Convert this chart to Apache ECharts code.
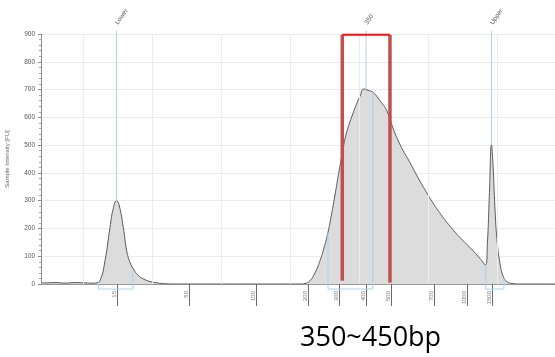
<!DOCTYPE html>
<html>
<head>
<meta charset="utf-8">
<script src="https://cdn.jsdelivr.net/npm/echarts@6/dist/echarts.min.js"></script>
<style>
  html, body { margin: 0; padding: 0; background: #fff; }
  #chart { width: 555px; height: 357px; }
</style>
</head>
<body>
<div id="chart"></div>
<script>
// Electropherogram trace: migration time (s) vs. fluorescence (FU)
const traceTime = [13.91, 14.49, 15.94, 17.39, 18.84, 20.29, 21.30, 21.88, 22.46, 23.19, 23.91, 24.35, 24.86, 25.22, 25.84, 26.33, 26.81, 27.29, 27.97, 28.70, 29.71, 30.72, 31.88, 33.33, 44.20, 51.45, 52.17, 52.90, 53.62, 54.35, 54.93, 55.46, 55.94, 56.52, 56.96, 57.49, 57.68, 58.26, 58.94, 59.57, 60.14, 60.72, 61.30, 62.03, 63.04, 64.01, 65.07, 66.19, 67.39, 68.55, 69.71, 70.72, 71.88, 73.19, 74.35, 75.61, 76.67, 77.54, 78.33, 78.62, 78.91, 79.20, 79.42, 79.71, 80.00, 80.43, 80.87, 81.45, 82.17, 83.33, 88.41];
const traceFU = [4, 4, 5, 3, 5, 4, 3, 4, 12, 84, 204, 268, 300, 285, 204, 120, 78, 54, 32, 19, 9, 4, 1, 0, 0, 0, 2, 12, 40, 84, 130, 181, 240, 320, 385, 460, 488, 550, 601, 643, 676, 702, 697, 690, 660, 625, 552, 490, 437, 383, 333, 292, 250, 208, 175, 143, 116, 92, 68, 150, 330, 500, 430, 270, 160, 75, 30, 8, 2, 0, 0];

// Ladder sizes (bp) and the times they elute at
const ladderBp = ['15', '50', '100', '200', '300', '400', '500', '700', '1000', '1500'];
const ladderTime = [24.93, 35.36, 45.07, 52.61, 57.10, 61.01, 64.64, 70.87, 75.65, 79.28];

// Peak markers: name, time, peak height
const markerName = ['Lower', '350', 'Upper'];
const markerTime = [24.86, 61.01, 79.20];
const markerFU = [300, 700, 500];

// Integration regions: start/end time and curve height at the edges
const regionStart = [22.22, 55.51, 78.36];
const regionEnd = [27.25, 61.99, 81.01];
const regionStartFU = [5, 185, 66];
const regionEndFU = [50, 690, 22];

// Selected size window (350~450 bp)
const selectTime = [57.58, 64.49];
const selectTopFU = 897;
const selectLabel = '350~450bp';

const timeGrid = [20, 30, 40, 50, 60, 70, 80];
const yTicks = [0, 100, 200, 300, 400, 500, 600, 700, 800, 900];

const tMin = traceTime[0], tMax = traceTime[traceTime.length - 1];
const markerTop = 912;
const regionFloor = -18;

const chart = echarts.init(document.getElementById('chart'), null, { renderer: 'canvas' });
const bpByTime = new Map(ladderTime.map((t, i) => [t, ladderBp[i]]));
const nameByTime = new Map(markerTime.map((t, i) => [t, markerName[i]]));
const font = 'Liberation Sans';

const series = [];

// faint vertical grid
series.push({
  type: 'line', data: [], z: 1, silent: true,
  markLine: {
    silent: true, symbol: 'none', label: { show: false },
    lineStyle: { color: '#ececec', width: 1, type: 'solid' },
    data: timeGrid.map(t => ({ xAxis: t }))
  }
});

// trace
series.push({
  type: 'line', z: 3,
  data: traceTime.map((t, i) => [t, traceFU[i]]),
  showSymbol: false, smooth: 0.5,
  lineStyle: { color: '#5a5a5a', width: 1 },
  areaStyle: { color: '#dcdcdc', opacity: 1 }
});

// peak markers
markerTime.forEach((t, i) => {
  series.push({
    type: 'line', z: 4, clip: false, showSymbol: false, silent: true,
    data: [[t, markerFU[i]], [t, markerTop]],
    lineStyle: { color: '#aed0ef', width: 1 }
  });
});

// region brackets
regionStart.forEach((s, i) => {
  series.push({
    type: 'line', z: 4, clip: false, showSymbol: false, silent: true,
    data: [[s, regionStartFU[i]], [s, regionFloor], [regionEnd[i], regionFloor], [regionEnd[i], regionEndFU[i]]],
    lineStyle: { color: '#aed0ef', width: 1 }
  });
});

// selection box
series.push({
  type: 'line', z: 6, clip: false, showSymbol: false, silent: true,
  data: [[selectTime[0], 12], [selectTime[0], selectTopFU]],
  lineStyle: { color: '#c0504d', width: 3.5 }
});
series.push({
  type: 'line', z: 6, clip: false, showSymbol: false, silent: true,
  data: [[selectTime[1], 5], [selectTime[1], selectTopFU]],
  lineStyle: { color: '#c0504d', width: 3.5 }
});
series.push({
  type: 'line', z: 7, clip: false, showSymbol: false, silent: true,
  data: [[selectTime[0], selectTopFU], [selectTime[1], selectTopFU]],
  lineStyle: { color: '#f01010', width: 2 }
});

const option = {
  animation: false,
  backgroundColor: '#ffffff',
  grid: { left: 41, right: 0, top: 34, bottom: 73, containLabel: false, outerBoundsMode: 'none' },
  xAxis: [
    {
      type: 'value', min: tMin, max: tMax,
      axisLine: { show: true, onZero: false, lineStyle: { color: '#9a9a9a', width: 1 } },
      axisTick: { show: false }, axisLabel: { show: false }, splitLine: { show: false }
    },
    {
      type: 'value', min: tMin, max: tMax, position: 'bottom', offset: 6,
      axisLine: { show: false },
      splitLine: { show: false },
      axisTick: { show: true, customValues: ladderTime, length: 22, lineStyle: { color: '#6a6a6a', width: 1 } },
      axisLabel: {
        show: true, customValues: ladderTime, rotate: 90, margin: 1,
        fontFamily: font, fontSize: 6, color: '#808080', verticalAlign: 'bottom',
        formatter: v => bpByTime.get(v) || ''
      }
    },
    {
      type: 'value', min: tMin, max: tMax, position: 'top', offset: 0,
      axisLine: { show: false }, splitLine: { show: false },
      axisTick: { show: false },
      axisLabel: {
        show: true, customValues: markerTime, rotate: -55, margin: 10,
        fontFamily: font, fontSize: 6.5, color: '#555',
        formatter: v => nameByTime.get(v) || ''
      }
    }
  ],
  yAxis: {
    type: 'value', min: yTicks[0], max: yTicks[yTicks.length - 1], interval: 100,
    name: 'Sample Intensity [FU]', nameLocation: 'middle', nameGap: 31,
    nameTextStyle: { fontFamily: font, fontSize: 6, color: '#666' },
    axisLine: { show: true, lineStyle: { color: '#8a8a8a', width: 1 } },
    axisTick: { show: true, length: 3, lineStyle: { color: '#8a8a8a' } },
    minorTick: { show: true, splitNumber: 5, length: 2, lineStyle: { color: '#aaa' } },
    axisLabel: { fontFamily: font, fontSize: 6.5, color: '#555', margin: 6 },
    splitLine: { show: true, lineStyle: { color: '#ebebeb', width: 1 } }
  },
  graphic: [{
    type: 'text', left: 300, top: 325, z: 10,
    style: { text: selectLabel, font: '27px "Open Sans"', fill: '#000' }
  }],
  series: series
};

chart.setOption(option);
</script>
</body>
</html>
